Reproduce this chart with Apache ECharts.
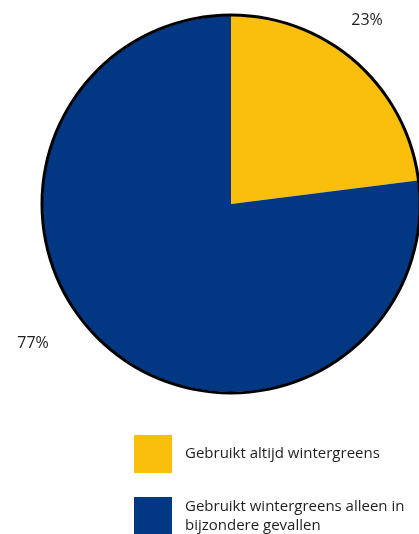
<!DOCTYPE html>
<html>
<head>
<meta charset="utf-8">
<style>html,body{margin:0;padding:0;background:#fff;}#c{width:419px;height:534px;}</style>
<script src="https://cdn.jsdelivr.net/npm/echarts@6/dist/echarts.min.js"></script>
</head>
<body>
<div id="c"></div>
<script>
const categories = ['Gebruikt altijd wintergreens', 'Gebruikt wintergreens alleen in bijzondere gevallen'];
const values = [23, 77];
const colors = ['#FABF0C', '#023883'];
const labelOffsets = [[-19, -31], [-43, -13]];

const chart = echarts.init(document.getElementById('c'), null, {renderer: 'canvas'});
const font = '"Open Sans", Lato, sans-serif';
chart.setOption({
  animation: false,
  legend: {
    orient: 'vertical',
    left: 134, top: 435,
    height: 300,
    padding: 0,
    itemWidth: 38, itemHeight: 38, itemGap: 24,
    icon: 'rect',
    selectedMode: false,
    data: categories,
    textStyle: {fontFamily: font, fontSize: 15, color: '#1e1e1e', width: 232, overflow: 'break', lineHeight: 19, padding: [0,0,0,8]}
  },
  series: [
    {
      type: 'pie',
      center: [231, 204],
      radius: [0, 188],
      startAngle: 90,
      clockwise: true,
      avoidLabelOverlap: false,
      silent: true,
      data: categories.map((n, i) => ({
        name: n, value: values[i],
        itemStyle: {color: colors[i]},
        label: {offset: labelOffsets[i]}
      })),
      label: {
        show: true, position: 'outside',
        formatter: p => p.value + '%',
        fontFamily: font, fontSize: 16, color: '#1e1e1e'
      },
      labelLine: {show: false, length: 15, length2: 0}
    },
    {
      type: 'pie',
      center: [231, 204],
      radius: [187.5, 190.5],
      silent: true,
      label: {show: false},
      labelLine: {show: false},
      data: [{value: values.reduce((a, b) => a + b, 0), name: 'rand', itemStyle: {color: '#000'}}]
    }
  ]
});
</script>
</body>
</html>
